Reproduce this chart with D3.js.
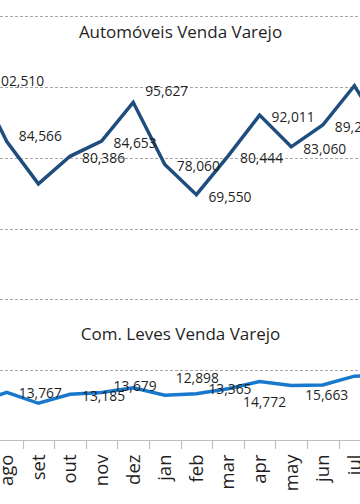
<!DOCTYPE html>
<html>
<head>
<meta charset="utf-8">
<script src="https://cdn.jsdelivr.net/npm/d3@7"></script>
<style>
  html, body { margin: 0; padding: 0; background: #fff; }
  svg { display: block; }
  text { font-family: "Open Sans", Lato, sans-serif; fill: #1f1f1f; }
</style>
</head>
<body>
<svg id="chart" width="360" height="504"></svg>
<script>
// ---- data ----
const months = ['jul','ago','set','out','nov','dez','jan','feb','mar','apr','may','jun','jul','ago'];
const autos  = [102510, 84566, 72600, 80386, 84653, 95627, 78060, 69550, 80444, 92011, 83060, 89230, 100300, 86000];
const leves  = [10600, 13767, 10650, 13185, 13679, 15000, 12898, 13365, 14772, 16800, 15663, 15800, 18300, 18600];
const autosLabeledIdx = [0, 1, 3, 4, 5, 6, 7, 8, 9, 10, 11];
const levesLabeledIdx = [1, 3, 4, 6, 7, 8, 10];
const yTicks = [0, 20000, 40000, 60000, 80000, 100000, 120000];
const titleAutos = 'Automóveis Venda Varejo';
const titleLeves = 'Com. Leves Venda Varejo';

// ---- layout ----
const W = 360, H = 504;
const step = 31.6;
const firstEdge = -40.6;
const idx = months.map((m, i) => i);

const x = d3.scaleBand().domain(idx).range([firstEdge, firstEdge + step * months.length]).padding(0);
const y = d3.scaleLinear().domain([0, 120000]).range([441, 16]);

const svg = d3.select('#chart');

// gridlines
svg.append('g').selectAll('line').data(yTicks.filter(v => v > 0)).join('line')
  .attr('x1', 0).attr('x2', W)
  .attr('y1', d => Math.round(y(d)) + 0.5).attr('y2', d => Math.round(y(d)) + 0.5)
  .attr('stroke', '#a6a6a6').attr('stroke-width', 1).attr('stroke-dasharray', '3,2');

// x axis (only months that fall inside the picture get a label)
const visibleIdx = idx.filter(i => x(i) + x.bandwidth() / 2 > 0 && x(i) + x.bandwidth() / 2 < W);
const xAxis = d3.axisBottom(x).tickSize(0).tickValues(visibleIdx).tickFormat(i => months[i]);
const gx = svg.append('g').attr('transform', `translate(0,${Math.round(y(0)) - 0.5})`).call(xAxis);
gx.select('.domain').attr('stroke', '#bfbfbf').attr('stroke-width', 1.2).attr('d', `M0,0H${W}`);
gx.selectAll('.tick line').remove();
gx.selectAll('.tick text')
  .attr('font-size', 18.5)
  .attr('fill', '#1f1f1f')
  .attr('text-anchor', 'end')
  .attr('transform', 'rotate(-90)')
  .attr('x', -14).attr('y', 0).attr('dy', '0.35em');
// tick marks at band edges
svg.append('g').selectAll('line').data(d3.range(months.length + 1)).join('line')
  .attr('x1', i => Math.round(firstEdge + i * step) + 0.5)
  .attr('x2', i => Math.round(firstEdge + i * step) + 0.5)
  .attr('y1', Math.round(y(0))).attr('y2', Math.round(y(0)) + 8)
  .attr('stroke', '#bfbfbf').attr('stroke-width', 1.2);

const cx = i => x(i) + x.bandwidth() / 2;

// lines
const line = d3.line().x((d, i) => cx(i)).y(d => y(d));
svg.append('path').datum(autos).attr('d', line)
  .attr('fill', 'none').attr('stroke', '#1f4e7e').attr('stroke-width', 3.5).attr('stroke-linejoin', 'miter');
svg.append('path').datum(leves).attr('d', line)
  .attr('fill', 'none').attr('stroke', '#1878cc').attr('stroke-width', 3.5).attr('stroke-linejoin', 'miter');

const fmt = d3.format(',');

// data labels (placed right of the points, a few nudged as in the original)
const autoNudge = {0: [6, 1], 1: [0, -7], 5: [0, -13]};
svg.append('g').selectAll('text').data(autosLabeledIdx).join('text')
  .attr('x', i => cx(i) + 12 + ((autoNudge[i] || [0, 0])[0]))
  .attr('y', i => y(autos[i]) + 2 + ((autoNudge[i] || [0, 0])[1]))
  .attr('dy', '0.35em')
  .attr('font-size', 13.8)
  .text(i => fmt(autos[i]));

const levesNudge = {1: [0, 1], 3: [0, 2], 4: [0, -6], 6: [-1, -17], 7: [0, -4], 8: [3, 13], 10: [2, 10]};
svg.append('g').selectAll('text').data(levesLabeledIdx).join('text')
  .attr('x', i => cx(i) + 12 + ((levesNudge[i] || [0, 0])[0]))
  .attr('y', i => y(leves[i]) + ((levesNudge[i] || [0, 0])[1]))
  .attr('dy', '0.35em')
  .attr('font-size', 13.8)
  .text(i => fmt(leves[i]));

// titles
svg.append('text').attr('x', 180.5).attr('y', 38).attr('text-anchor', 'middle').attr('font-size', 17).text(titleAutos);
svg.append('text').attr('x', 180.5).attr('y', 340).attr('text-anchor', 'middle').attr('font-size', 17).text(titleLeves);
</script>
</body>
</html>
